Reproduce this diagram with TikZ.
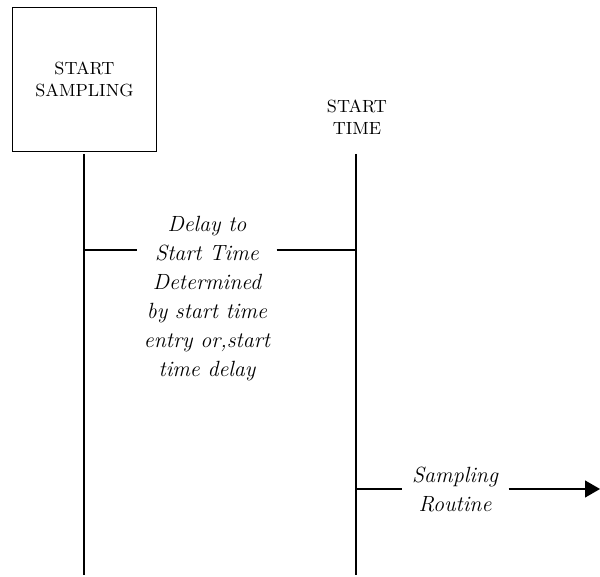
\documentclass[tikz,border=0pt]{standalone}
\usetikzlibrary{arrows.meta,positioning}
\begin{document}
\begin{tikzpicture}[x=0.5pt,y=-0.5pt,line width=0.6pt,
  lbl/.style={align=center,inner xsep=3pt,font=\fontsize{11}{14.5}\selectfont\itshape},
  caps/.style={align=center,font=\fontsize{8.8}{11}\selectfont}]
  \useasboundingbox (0,0) rectangle (600,577);
  % event boxes and labels
  \node[draw,caps,minimum size=72pt] (sampling) at (84.5,79.5) {START\\SAMPLING};
  \node[caps] (starttime) at (357,117) {START\\TIME};
  % time lines
  \coordinate (ltop) at (84,154);  \coordinate (lbot) at (84,575);
  \coordinate (rtop) at (356,154); \coordinate (rbot) at (356,575);
  \draw (ltop) -- (lbot);
  \draw (rtop) -- (rbot);
  % delay span
  \coordinate (ltap) at (84,250);  \coordinate (rtap) at (356,250);
  \node[lbl] (delay) at (207,299) {Delay to\\Start Time\\Determined\\by start time\\entry or,start\\time delay};
  \draw (ltap) -- (ltap -| delay.west);
  \draw (delay.east |- rtap) -- (rtap);
  % sampling routine
  \coordinate (rmid) at (356,489); \coordinate (tip) at (600,489);
  \node[lbl,inner xsep=5pt] (routine) at (455,489) {Sampling\\Routine};
  \draw (rmid) -- (routine.west);
  \draw[-{Triangle[length=7.5pt,width=8.5pt]}] (routine.east) -- (tip);
\end{tikzpicture}
\end{document}
